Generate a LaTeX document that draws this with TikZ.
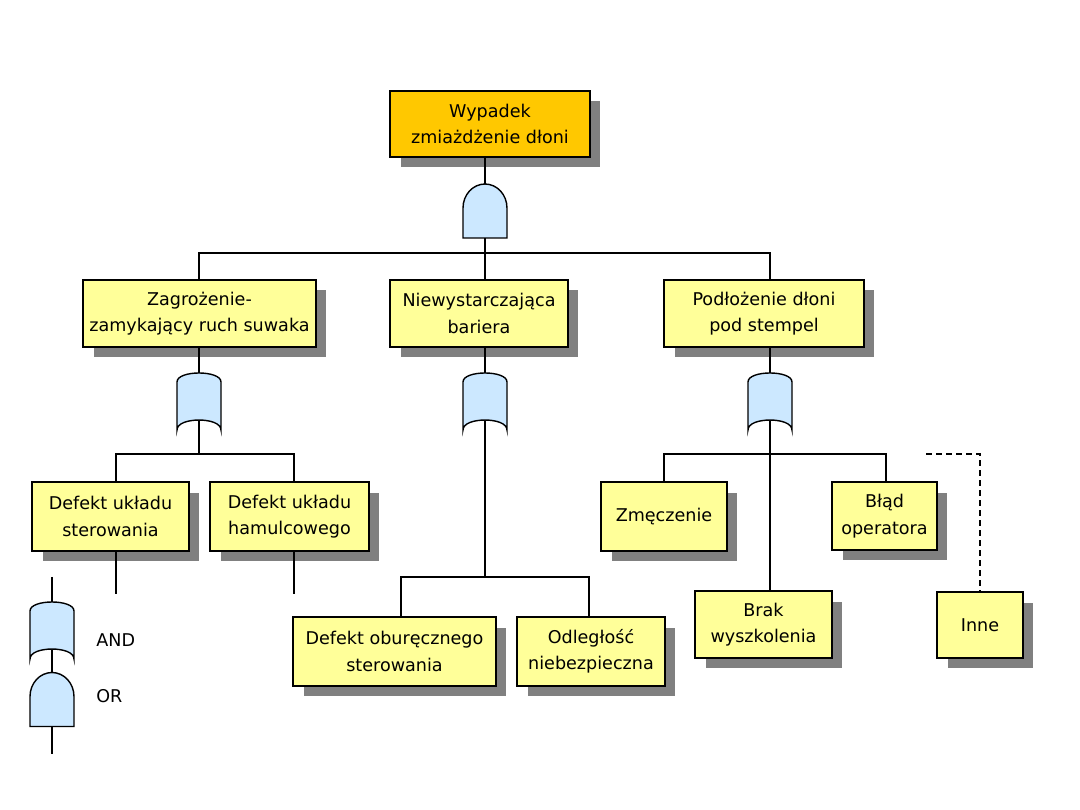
\documentclass[tikz,border=0pt]{standalone}
\usepackage{fontspec}
\setmainfont{DejaVu Sans}
\usetikzlibrary{shadows}
\definecolor{evYellow}{RGB}{255,255,153}
\definecolor{topOrange}{RGB}{255,200,0}
\definecolor{gateBlue}{RGB}{204,232,255}
\definecolor{shadowGray}{RGB}{128,128,128}

\begin{document}
\begin{tikzpicture}[
  x=0.02cm, y=0.02cm,
  font=\fontsize{10}{15}\selectfont,
  event/.style={draw, line width=1.1pt, rectangle, fill=evYellow, align=center, inner sep=0pt, drop shadow={shadow xshift=0.21cm, shadow yshift=-0.21cm, fill=shadowGray, opacity=1}},
  topevent/.style={event, fill=topOrange},
  gatebox/.style={rectangle, minimum width=0.88cm, minimum height=1.14cm, inner sep=0pt, outer sep=0pt},
  domebox/.style={gatebox, minimum height=1.08cm},
  conn/.style={line width=0.85pt},
  gateline/.style={line width=0.8pt, fill=gateBlue},
  legend/.style={anchor=west, inner sep=0pt},
  andgate/.pic={
    \draw[gateline] (-22,19.5) .. controls (-22,31.5) and (22,31.5) .. (22,19.5) -- (22,-28.5)
      .. controls (22,-15.2) and (-22,-15.2) .. (-22,-28.5) -- cycle;
  },
  orgate/.pic={
    \draw[gateline] (-22,-27) -- (-22,3) arc[start angle=180, end angle=0, x radius=0.44cm, y radius=0.48cm] -- (22,-27) -- cycle;
  }
]
\useasboundingbox (0,0) rectangle (1080,-810);

% events
\node[topevent, minimum width=4cm, minimum height=1.32cm] (top) at (490,-124) {Wypadek\\zmiażdżenie dłoni};
\node[event, minimum width=4.66cm, minimum height=1.34cm] (zagr) at (199.5,-313.5) {Zagrożenie-\\zamykający ruch suwaka};
\node[event, minimum width=3.56cm, minimum height=1.34cm] (niew) at (479,-313.5) {Niewystarczająca\\bariera};
\node[event, minimum width=4cm, minimum height=1.34cm] (podl) at (764,-313.5) {Podłożenie dłoni\\pod stempel};
\node[event, minimum width=3.14cm, minimum height=1.38cm] (ster) at (110.5,-516.5) {Defekt układu\\sterowania};
\node[event, minimum width=3.18cm, minimum height=1.38cm] (haml) at (289.5,-516.5) {Defekt układu\\hamulcowego};
\node[event, minimum width=4.06cm, minimum height=1.38cm] (obur) at (394.5,-651.5) {Defekt oburęcznego\\sterowania};
\node[event, minimum width=2.96cm, minimum height=1.38cm] (odl) at (591,-651.5) {Odległość\\niebezpieczna};
\node[event, minimum width=2.52cm, minimum height=1.38cm] (zmecz) at (664,-516.5) {Zmęczenie};
\node[event, minimum width=2.1cm, minimum height=1.36cm] (blad) at (884.5,-516) {Błąd\\operatora};
\node[event, minimum width=2.74cm, minimum height=1.34cm] (brak) at (763.5,-624.5) {Brak\\wyszkolenia};
\node[event, minimum width=1.72cm, minimum height=1.32cm] (inne) at (980,-625) {Inne};

% gates
\node[domebox] (g0) at (485,-211) {};
\node[gatebox] (g1) at (199,-401.5) {};
\node[gatebox] (g2) at (485,-401.5) {};
\node[gatebox] (g3) at (770,-401.5) {};

% connectors
\draw[conn] (top.south -| g0.north) -- (g0.north);
\draw[conn] (g0.south) -- ++(0,-15) -| (zagr.north -| g1.north);
\draw[conn] (g0.south) -- (niew.north -| g0.south);
\draw[conn] (g0.south) -- ++(0,-15) -| (podl.north -| g3.north);
\draw[conn] (zagr.south -| g1.north) -- (g1.north);
\draw[conn] (niew.south -| g2.north) -- (g2.north);
\draw[conn] (podl.south -| g3.north) -- (g3.north);

\draw[conn] ([yshift=0.2cm]g1.south) -- ++(0,-34) -| ([xshift=0.11cm]ster.north);
\draw[conn] ([yshift=0.2cm]g1.south) -- ++(0,-34) -| ([xshift=0.09cm]haml.north);
\draw[conn] ([xshift=0.11cm]ster.south) -- ++(0,-42);
\draw[conn] ([xshift=0.09cm]haml.south) -- ++(0,-42);

\draw[conn] ([yshift=0.2cm]g2.south) -- ++(0,-157) -| ([xshift=0.13cm]obur.north);
\draw[conn] ([yshift=0.2cm]g2.south) -- ++(0,-157) -| ([xshift=-0.04cm]odl.north);

\draw[conn] ([yshift=0.2cm]g3.south) -- ++(0,-34) -| (zmecz.north);
\draw[conn] ([yshift=0.2cm]g3.south) -- ++(0,-34) -| ([xshift=0.03cm]blad.north);
\draw[conn] ([yshift=0.2cm]g3.south) -- (brak.north -| g3.south);
\coordinate (other) at (926,-454);
\draw[conn, dash pattern=on 3.4pt off 2.3pt] (other) -| (inne.north);

\pic at (g0) {orgate};
\pic at (g1) {andgate};
\pic at (g2) {andgate};
\pic at (g3) {andgate};

% legend
\coordinate (legtop) at (52,-577);
\node[gatebox] (legand) at (52,-630.5) {};
\node[domebox] (legor) at (52,-699.5) {};
\draw[conn] (legtop) -- (legand.north);
\draw[conn] ([yshift=0.2cm]legand.south) -- (legor.north);
\draw[conn] (legor.south) -- ++(0,-28);
\pic at (legand) {andgate};
\pic at (legor) {orgate};
\node[legend] (andlbl) at (96,-640) {AND};
\node[legend] (orlbl) at (96,-696) {OR};
\end{tikzpicture}
\end{document}
